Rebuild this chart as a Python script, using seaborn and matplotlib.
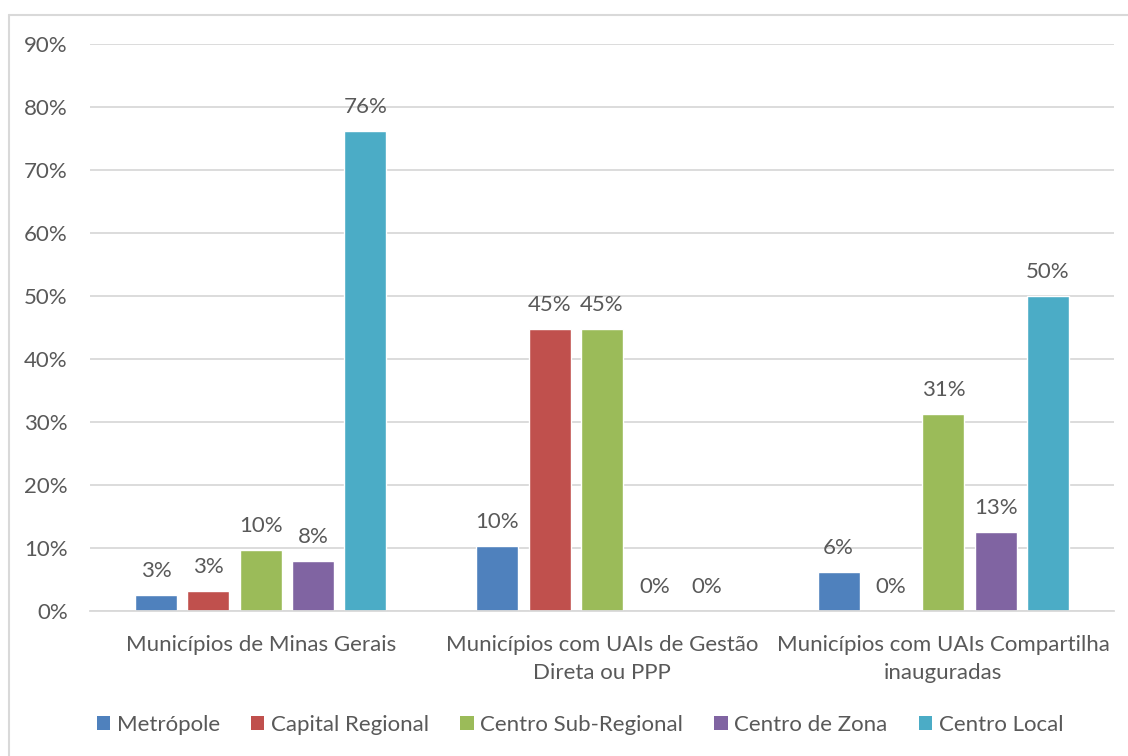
import numpy as np
import pandas as pd
import matplotlib
matplotlib.use("Agg")
import matplotlib.pyplot as plt
from matplotlib.lines import Line2D
from matplotlib.patches import Patch
import seaborn as sns

# Data
groups = [
    "Municípios de Minas Gerais",
    "Municípios com UAIs de Gestão\nDireta ou PPP",
    "Municípios com UAIs Compartilha\ninauguradas",
]
series = ["Metrópole", "Capital Regional", "Centro Sub-Regional", "Centro de Zona", "Centro Local"]
metropole = [0.026, 0.103, 0.0625]
capital_regional = [0.032, 0.448, 0.0]
centro_sub_regional = [0.097, 0.448, 0.3125]
centro_de_zona = [0.079, 0.0, 0.125]
centro_local = [0.762, 0.0, 0.50]
yticks = [0.0, 0.1, 0.2, 0.3, 0.4, 0.5, 0.6, 0.7, 0.8, 0.9]

colors = ["#4F81BD", "#C0504D", "#9BBB59", "#8064A2", "#4BACC6"]
text_color = "#595959"
fs = 16

values = [metropole, capital_regional, centro_sub_regional, centro_de_zona, centro_local]
df = pd.DataFrame(
    [(g, s, v[i]) for s, v in zip(series, values) for i, g in enumerate(groups)],
    columns=["grupo", "serie", "valor"],
)

sns.set_style("white")
plt.rcParams["font.family"] = ["Lato", "DejaVu Sans"]


def pct(v):
    # round half up, as spreadsheet percent formats do
    return f"{int(v * 100 + 0.5 + 1e-9)}%"


fig = plt.figure(figsize=(11.28, 7.56), dpi=100)
ax = fig.add_axes([90 / 1128, 1 - 611 / 756, (1114 - 90) / 1128, (611 - 44.3) / 756])

sns.barplot(
    data=df, x="grupo", y="valor", hue="serie", order=groups, hue_order=series,
    palette=colors, width=0.767, gap=0.2, ax=ax, legend=False, saturation=1,
)

for container in ax.containers:
    labels = [pct(v) for v in container.datavalues]
    ax.bar_label(container, labels=labels, padding=10, fontsize=fs, color=text_color)

ax.set_xlim(-0.5, 2.5)
ax.set_ylim(0, 0.9)
ax.set_yticks(yticks)
ax.set_yticklabels([pct(t) for t in yticks])
ax.yaxis.grid(True, color="#D9D9D9", linewidth=1.3)
ax.set_axisbelow(True)
for side in ["left", "right", "top"]:
    ax.spines[side].set_visible(False)
ax.spines["bottom"].set_color("#D9D9D9")
ax.spines["bottom"].set_linewidth(1.3)
ax.tick_params(axis="y", length=0, pad=16, labelsize=fs, labelcolor=text_color)
ax.tick_params(axis="x", length=0, pad=17, labelsize=fs, labelcolor=text_color)
for lab in ax.get_xticklabels():
    lab.set_linespacing(1.5)
ax.set_xlabel("")
ax.set_ylabel("")

handles = [Patch(facecolor=c, edgecolor="none") for c in colors]
fig.legend(
    handles, series, loc="center", bbox_to_anchor=(580 / 1128, 1 - 725 / 756),
    ncol=5, frameon=False, fontsize=fs, labelcolor=text_color,
    handlelength=0.6, handleheight=0.6, handletextpad=0.3, columnspacing=1.4,
)

# Chart area border
fig.add_artist(Line2D([9 / 1128, 1.0], [1 - 15 / 756, 1 - 15 / 756],
                      transform=fig.transFigure, color="#D9D9D9", linewidth=1.5))
fig.add_artist(Line2D([9 / 1128, 9 / 1128], [0.0, 1 - 15 / 756],
                      transform=fig.transFigure, color="#D9D9D9", linewidth=1.5))

fig.savefig("out.png", dpi=100)
